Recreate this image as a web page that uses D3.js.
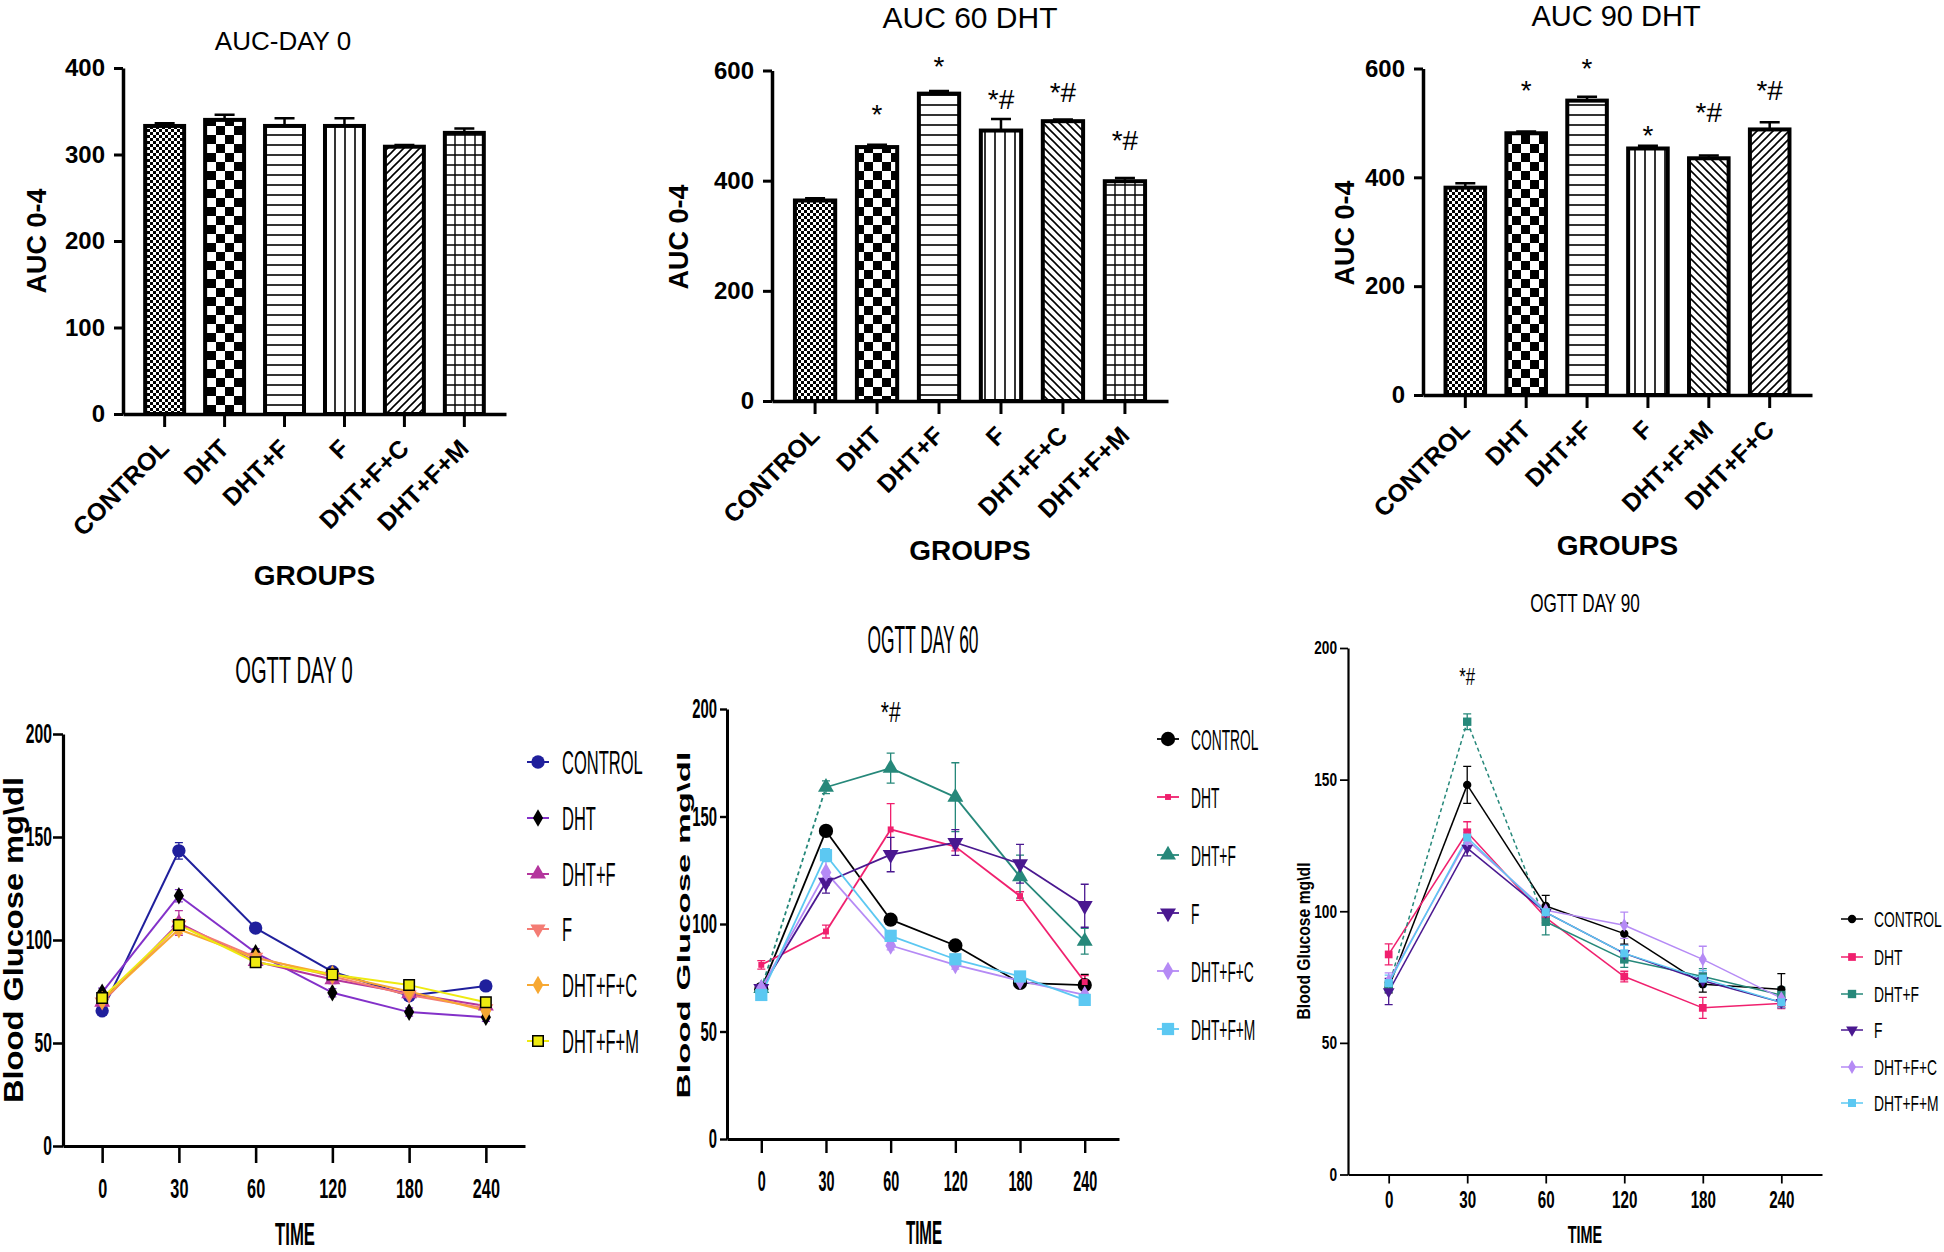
<!DOCTYPE html>
<html><head><meta charset="utf-8">
<script src="https://cdn.jsdelivr.net/npm/d3@7"></script>
<style>body{margin:0;background:#fff} svg{display:block}</style>
</head><body>
<svg id="c" width="1944" height="1252"></svg>
<script>
// ---------------- DATA ----------------
const groupsA = ["CONTROL","DHT","DHT+F","F","DHT+F+C","DHT+F+M"];
const groupsB = ["CONTROL","DHT","DHT+F","F","DHT+F+M","DHT+F+C"];
const aucTicks0 = [0,100,200,300,400];
const aucTicks = [0,200,400,600];

const auc0Values = [333,340,333,333,309,325];
const auc0Errors = [3,6,9,9,2,5];
const auc0Marks = ["","","","","",""];
const auc0MarkLevel = [null,null,null,null,null,null];

const auc60Values = [364,461,558,491,508,399];
const auc60Errors = [4,4,5,21,3,6];
const auc60Marks = ["","*","*","*#","*#","*#"];
const auc60MarkLevel = [null,503,590,530,543,456];

const auc90Values = [381,481,541,453,435,488];
const auc90Errors = [8,3,7,5,5,13];
const auc90Marks = ["","*","*","*","*#","*#"];
const auc90MarkLevel = [null,542,582,460,502,542];

const times = ["0","30","60","120","180","240"];
const ogttSeries = ["CONTROL","DHT","DHT+F","F","DHT+F+C","DHT+F+M"];
const glucoseTicks = [0,50,100,150,200];

const day0Means = [
  [65.6,143.3,105.8,84.6,72.9,77.7],
  [74.6,121.5,93.8,74.4,65.0,62.5],
  [69.8,108.3,89.6,80.8,74.0,68.0],
  [70.0,107.3,91.7,82.3,73.3,66.7],
  [70.8,105.2,91.2,83.3,75.0,65.6],
  [71.9,107.3,89.2,83.3,78.1,69.8]
];
const day0Errs = [
  [2,4,2,2,2,2],[2,3,2,2,2,2],[2,6,2,2,2,2],[2,3,2,2,2,2],[2,2,2,2,2,2],[2,3,2,2,2,2]
];
const day60Means = [
  [69.7,143.3,102.0,90.0,72.6,71.6],
  [81.0,96.5,144.0,136.0,113.0,73.0],
  [70.0,163.6,172.5,159.0,122.0,92.0],
  [70.0,119.4,132.3,137.9,128.0,108.5],
  [70.0,124.0,90.0,81.0,73.6,67.0],
  [67.0,132.0,94.5,83.6,75.6,64.7]
];
const day60Errs = [
  [2,2,2,2,2,5],[2,3,12,2,2,3],[2,3,7,16,10,6],[2,5,8,6,9,10],[2,6,2,2,2,2],[2,3,2,2,2,2]
];
const day90Means = [
  [71.0,148.0,102.0,91.5,72.3,70.3],
  [83.6,130.0,97.6,75.2,63.3,65.0],
  [71.4,172.0,96.0,81.7,75.2,68.2],
  [69.5,124.0,99.6,84.0,73.6,65.4],
  [73.6,127.0,100.4,94.7,81.7,67.0],
  [72.7,128.0,99.6,84.0,74.4,65.4]
];
const day90Errs = [
  [2,7,4,4,3,6],[4,4,2,2,4,2],[2,3,5,3,3,3],[5,3,2,3,2,2],[3,3,2,5,5,2],[3,3,2,3,3,2]
];
const day60Mark = {time:"60", level:194, text:"*#"};
const day90Mark = {time:"30", level:186, text:"*#"};

// ---------------- RENDER ----------------
const svg = d3.select("#c");
const FONT = "'Liberation Sans', Arial, sans-serif";

function txt(g, s, x, y, o = {}) {
  const t = g.append("text").text(s)
    .attr("font-family", FONT).attr("font-size", o.size || 20)
    .attr("font-weight", o.bold ? "bold" : "normal")
    .attr("text-anchor", o.anchor || "middle").attr("fill", "#000");
  let tr = `translate(${x},${y})`;
  if (o.rotate) tr += ` rotate(${o.rotate})`;
  if (o.sx) tr += ` scale(${o.sx},1)`;
  t.attr("transform", tr);
  if (o.len) t.attr("textLength", o.len).attr("lengthAdjust", "spacingAndGlyphs");
  if (o.dy) t.attr("dy", o.dy);
  return t;
}

// patterns
const defs = svg.append("defs");
function pat(id, w, h, draw) {
  const p = defs.append("pattern").attr("id", id).attr("patternUnits", "userSpaceOnUse")
    .attr("width", w).attr("height", h);
  p.append("rect").attr("width", w).attr("height", h).attr("fill", "#fff");
  draw(p);
}
pat("checkFine", 6, 6, p => {
  p.append("rect").attr("width", 3).attr("height", 3).attr("fill", "#000");
  p.append("rect").attr("x", 3).attr("y", 3).attr("width", 3).attr("height", 3).attr("fill", "#000");
});
pat("checkCoarse", 18, 18, p => {
  p.append("rect").attr("width", 9).attr("height", 9).attr("fill", "#000");
  p.append("rect").attr("x", 9).attr("y", 9).attr("width", 9).attr("height", 9).attr("fill", "#000");
});
pat("hlines", 10, 10, p => p.append("path").attr("d", "M0,5H10").attr("stroke", "#000").attr("stroke-width", 1.6));
pat("vlines", 10, 10, p => p.append("path").attr("d", "M5,0V10").attr("stroke", "#000").attr("stroke-width", 1.6));
pat("diagUp", 8, 8, p => p.append("path").attr("d", "M-2,2L2,-2M0,8L8,0M6,10L10,6").attr("stroke", "#000").attr("stroke-width", 1.6));
pat("diagDown", 8, 8, p => p.append("path").attr("d", "M-2,6L2,10M0,0L8,8M6,-2L10,2").attr("stroke", "#000").attr("stroke-width", 1.6));
pat("grid", 10, 10, p => p.append("path").attr("d", "M0,5H10M5,0V10").attr("stroke", "#000").attr("stroke-width", 1.4));

function barPanel(o) {
  const g = svg.append("g");
  const x = d3.scaleBand().domain(o.groups).range([o.x0, o.x1]).paddingInner(0.35).paddingOuter(0.37);
  const y = d3.scaleLinear().domain([0, o.max]).range([o.yZero, o.yTop]);
  const bw = x.bandwidth();
  g.selectAll("rect.bar").data(o.groups).join("rect").attr("class", "bar")
    .attr("x", d => x(d)).attr("width", bw)
    .attr("y", (d, i) => y(o.values[i])).attr("height", (d, i) => y(0) - y(o.values[i]))
    .attr("fill", d => `url(#${o.patterns[d]})`).attr("stroke", "#000").attr("stroke-width", 4);
  // error bars (upward)
  const eb = g.selectAll("g.eb").data(o.groups).join("g").attr("class", "eb");
  eb.append("path").attr("d", (d, i) => {
    const cx = x(d) + bw / 2, yt = y(o.values[i] + o.errs[i]), yb = y(o.values[i]);
    return `M${cx},${yb}V${yt}M${cx - 10},${yt}H${cx + 10}`;
  }).attr("stroke", "#000").attr("stroke-width", 2.5).attr("fill", "none");
  // significance marks
  o.groups.forEach((d, i) => {
    if (o.marks[i]) txt(g, o.marks[i], x(d) + bw / 2, y(o.markLevel[i]), {size: 28});
  });
  // axes
  const ya = g.append("g").attr("transform", `translate(${o.x0},0)`)
    .call(d3.axisLeft(y).tickValues(o.ticks).tickSize(9).tickSizeOuter(0).tickPadding(9));
  ya.select(".domain").attr("stroke-width", 3.5);
  ya.selectAll(".tick line").attr("stroke-width", 3);
  ya.selectAll(".tick text").attr("font-size", 24).attr("font-weight", "bold").attr("font-family", FONT).attr("fill", "#000");
  const xa = g.append("g").attr("transform", `translate(0,${o.yZero})`)
    .call(d3.axisBottom(x).tickSize(13).tickSizeOuter(0));
  xa.select(".domain").attr("stroke-width", 3.5);
  xa.selectAll(".tick line").attr("stroke-width", 3);
  xa.selectAll(".tick text").attr("font-size", 25).attr("font-weight", "bold").attr("font-family", FONT).attr("fill", "#000")
    .attr("x", 0).attr("y", 0).attr("dy", 0).attr("text-anchor", "end")
    .attr("transform", "translate(6,36) rotate(-45)");
  txt(g, o.title, o.titleX, o.titleY, {size: o.titleSize});
  txt(g, "AUC 0-4", o.ylabX, o.ylabY, {size: 27, bold: true, rotate: -90, dy: "0.35em"});
  txt(g, "GROUPS", (o.x0 + o.x1) / 2, o.groupsY, {size: 28, bold: true});
}

const patA = {"CONTROL":"checkFine","DHT":"checkCoarse","DHT+F":"hlines","F":"vlines","DHT+F+C":"diagUp","DHT+F+M":"grid"};
const patB = {"CONTROL":"checkFine","DHT":"checkCoarse","DHT+F":"hlines","F":"vlines","DHT+F+C":"diagDown","DHT+F+M":"grid"};
const patC = {"CONTROL":"checkFine","DHT":"checkCoarse","DHT+F":"hlines","F":"vlines","DHT+F+M":"diagDown","DHT+F+C":"diagUp"};

barPanel({groups: groupsA, values: auc0Values, errs: auc0Errors, marks: auc0Marks, markLevel: auc0MarkLevel,
  patterns: patA, x0: 123, x1: 506, yTop: 68, yZero: 414, max: 400, ticks: aucTicks0,
  title: "AUC-DAY 0", titleX: 283, titleY: 50, titleSize: 26, ylabX: 37, ylabY: 241, groupsY: 585});
barPanel({groups: groupsA, values: auc60Values, errs: auc60Errors, marks: auc60Marks, markLevel: auc60MarkLevel,
  patterns: patB, x0: 772, x1: 1168, yTop: 70.5, yZero: 401, max: 600, ticks: aucTicks,
  title: "AUC 60 DHT", titleX: 970, titleY: 28, titleSize: 30, ylabX: 679, ylabY: 237, groupsY: 560});
barPanel({groups: groupsB, values: auc90Values, errs: auc90Errors, marks: auc90Marks, markLevel: auc90MarkLevel,
  patterns: patC, x0: 1423, x1: 1812, yTop: 68.5, yZero: 395, max: 600, ticks: aucTicks,
  title: "AUC 90 DHT", titleX: 1616, titleY: 26, titleSize: 29, ylabX: 1345, ylabY: 233, groupsY: 555});

// ---------- OGTT line panels ----------
const symTypes = {circle: d3.symbolCircle, square: d3.symbolSquare, triangle: d3.symbolTriangle,
  triangleDown: d3.symbolTriangle, diamond: d3.symbolDiamond};
function marker(g, st, cx, cy, scale = 1) {
  g.append("path").attr("d", d3.symbol().type(symTypes[st.sym]).size(st.size * scale)())
    .attr("transform", `translate(${cx},${cy})${st.sym === "triangleDown" ? " rotate(180)" : ""}`)
    .attr("fill", st.marker).attr("stroke", st.stroke || "none").attr("stroke-width", st.stroke ? 1.5 : 0);
}

function linePanel(o) {
  const g = svg.append("g");
  const x = d3.scalePoint().domain(times).range([o.x0, o.x1]).padding(o.pad);
  const y = d3.scaleLinear().domain([0, 200]).range([o.yZero, o.yTop]);
  // error bars
  o.means.forEach((m, si) => {
    const st = o.styles[si];
    m.forEach((v, i) => {
      const cx = x(times[i]), e = o.errs[si][i];
      g.append("path").attr("d", `M${cx},${y(v - e)}V${y(v + e)}M${cx - 4},${y(v - e)}H${cx + 4}M${cx - 4},${y(v + e)}H${cx + 4}`)
        .attr("stroke", st.color).attr("stroke-width", 1.3).attr("fill", "none");
    });
  });
  // lines
  o.means.forEach((m, si) => {
    const st = o.styles[si];
    for (let i = 0; i < m.length - 1; i++) {
      g.append("line").attr("x1", x(times[i])).attr("y1", y(m[i])).attr("x2", x(times[i + 1])).attr("y2", y(m[i + 1]))
        .attr("stroke", st.color).attr("stroke-width", o.lw)
        .attr("stroke-dasharray", i < (st.dashed || 0) ? "4,3" : null);
    }
  });
  // markers
  o.means.forEach((m, si) => m.forEach((v, i) => marker(g, o.styles[si], x(times[i]), y(v))));
  // axes
  const ya = g.append("g").attr("transform", `translate(${o.x0},0)`)
    .call(d3.axisLeft(y).tickValues(glucoseTicks).tickSize(o.yt.tick).tickSizeOuter(0).tickPadding(0));
  ya.select(".domain").attr("stroke-width", o.aw);
  ya.selectAll(".tick line").attr("stroke-width", o.aw * 0.8);
  ya.selectAll(".tick text").attr("font-size", o.yt.size).attr("font-weight", "bold").attr("font-family", FONT).attr("fill", "#000")
    .attr("x", -(o.yt.tick + o.yt.pad) / o.yt.sx).attr("transform", `scale(${o.yt.sx},1)`);
  const xa = g.append("g").attr("transform", `translate(0,${o.yZero})`)
    .call(d3.axisBottom(x).tickSize(o.xt.tick).tickSizeOuter(0).tickPadding(o.xt.pad));
  xa.select(".domain").attr("stroke-width", o.aw);
  xa.selectAll(".tick line").attr("stroke-width", o.aw * 0.8);
  xa.selectAll(".tick text").attr("font-size", o.xt.size).attr("font-weight", "bold").attr("font-family", FONT).attr("fill", "#000")
    .attr("transform", `scale(${o.xt.sx},1)`);
  // titles
  txt(g, o.title, o.titleX, o.titleY, {size: o.titleSize, sx: o.titleSx});
  txt(g, "TIME", o.timeX, o.timeY, {size: o.timeSize, bold: true, sx: o.timeSx});
  txt(g, "Blood Glucose mg\\dl", o.ylab.x, o.ylab.y, {size: o.ylab.size, bold: true, rotate: -90, dy: "0.35em", len: o.ylab.len});
  if (o.mark) txt(g, o.mark.text, x(o.mark.time), y(o.mark.level), {size: o.markSize, sx: 0.7});
  // legend
  ogttSeries.forEach((s, si) => {
    const st = o.styles[si], ry = o.leg.rows[si];
    g.append("line").attr("x1", o.leg.mx - 11).attr("x2", o.leg.mx + 11).attr("y1", ry).attr("y2", ry)
      .attr("stroke", st.color).attr("stroke-width", o.lw);
    marker(g, st, o.leg.mx, ry);
    txt(g, s, o.leg.tx, ry, {size: o.leg.size, anchor: "start", sx: o.leg.sx, dy: "0.36em"});
  });
}

const styles0 = [
  {color: "#1f1f9c", marker: "#1f1f9c", sym: "circle", size: 140},
  {color: "#8331c9", marker: "#000", sym: "diamond", size: 90},
  {color: "#b4359d", marker: "#b4359d", sym: "triangle", size: 110},
  {color: "#f47c74", marker: "#f47c74", sym: "triangleDown", size: 100},
  {color: "#f7a832", marker: "#f7a832", sym: "diamond", size: 100},
  {color: "#eeea10", marker: "#eeea10", stroke: "#000", sym: "square", size: 110}
];
const styles60 = [
  {color: "#000", marker: "#000", sym: "circle", size: 160},
  {color: "#f0206e", marker: "#f0206e", sym: "square", size: 35},
  {color: "#26887a", marker: "#26887a", sym: "triangle", size: 110, dashed: 1},
  {color: "#4a1890", marker: "#4a1890", sym: "triangleDown", size: 110},
  {color: "#b58af5", marker: "#b58af5", sym: "diamond", size: 100},
  {color: "#5cc8f2", marker: "#5cc8f2", sym: "square", size: 150}
];
const styles90 = [
  {color: "#000", marker: "#000", sym: "circle", size: 55},
  {color: "#f0206e", marker: "#f0206e", sym: "square", size: 60},
  {color: "#26887a", marker: "#26887a", sym: "square", size: 70, dashed: 2},
  {color: "#4a1890", marker: "#4a1890", sym: "triangleDown", size: 60},
  {color: "#b58af5", marker: "#b58af5", sym: "diamond", size: 55},
  {color: "#5cc8f2", marker: "#5cc8f2", sym: "square", size: 65}
];

linePanel({means: day0Means, errs: day0Errs, styles: styles0, x0: 63, x1: 525, pad: 0.51, yZero: 1146, yTop: 734,
  lw: 2, aw: 3.2, yt: {tick: 10, pad: 1, size: 28, sx: 0.56}, xt: {tick: 17, pad: 15, size: 28, sx: 0.58},
  title: "OGTT DAY 0", titleX: 294, titleY: 683, titleSize: 36, titleSx: 0.56,
  timeX: 295, timeY: 1245, timeSize: 31, timeSx: 0.54,
  ylab: {x: 14, y: 940, size: 27, len: 326},
  leg: {mx: 538, tx: 562, rows: [762, 818, 874, 929, 985, 1041], size: 33, sx: 0.5}});
linePanel({means: day60Means, errs: day60Errs, styles: styles60, x0: 727, x1: 1119, pad: 0.53, yZero: 1139, yTop: 709,
  lw: 1.8, aw: 3, yt: {tick: 7, pad: 3, size: 27, sx: 0.55}, xt: {tick: 14, pad: 17, size: 30, sx: 0.48},
  title: "OGTT DAY 60", titleX: 923, titleY: 653, titleSize: 39, titleSx: 0.445,
  timeX: 924, timeY: 1244, timeSize: 33, timeSx: 0.46,
  ylab: {x: 683, y: 925, size: 19, len: 347},
  mark: day60Mark, markSize: 30,
  leg: {mx: 1168, tx: 1191, rows: [739, 797, 855, 913, 971, 1029], size: 30, sx: 0.46}});
linePanel({means: day90Means, errs: day90Errs, styles: styles90, x0: 1348, x1: 1822, pad: 0.518, yZero: 1174.5, yTop: 648,
  lw: 1.5, aw: 2.2, yt: {tick: 8, pad: 3, size: 18, sx: 0.76}, xt: {tick: 9, pad: 8, size: 23, sx: 0.66},
  title: "OGTT DAY 90", titleX: 1585, titleY: 612, titleSize: 26, titleSx: 0.66,
  timeX: 1585, timeY: 1243, timeSize: 24, timeSx: 0.6,
  ylab: {x: 1303, y: 941, size: 19, len: 157},
  mark: day90Mark, markSize: 24,
  leg: {mx: 1852, tx: 1874, rows: [919, 957, 994, 1030, 1067, 1103], size: 22, sx: 0.63}});
</script>
</body></html>
